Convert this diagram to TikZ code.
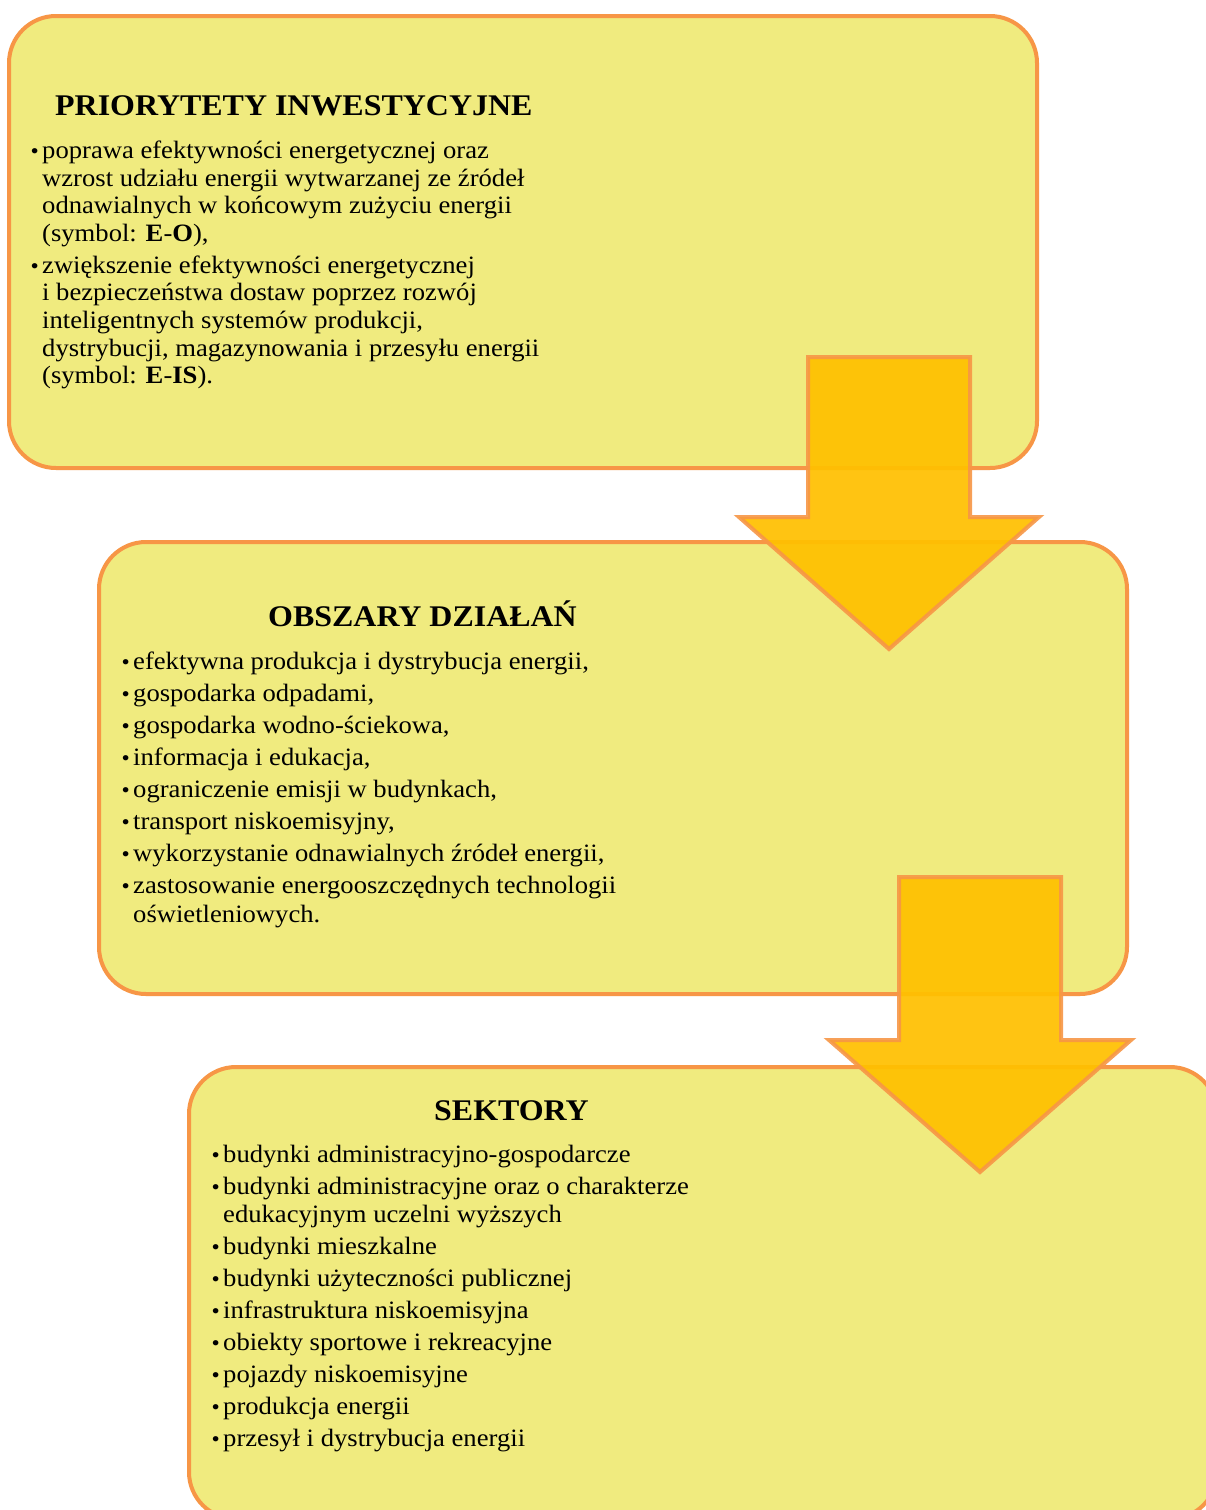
\documentclass[tikz,border=0pt]{standalone}
\usepackage{fontspec}
\setmainfont[FakeStretch=1.065]{Liberation Serif}
\definecolor{boxfill}{HTML}{F0EB7F}
\definecolor{boxline}{HTML}{F79646}
\definecolor{arrfill}{HTML}{FFC000}
\tikzset{
  box/.style={draw=boxline, fill=boxfill, line width=4pt, rounded corners=47pt,
    anchor=north west, minimum width=1028pt, minimum height=452pt, inner sep=0pt},
  bigarrow/.style={draw=boxline, draw opacity=0.9, fill=arrfill, fill opacity=0.93,
    line width=4pt, line join=miter},
  ttl/.style={anchor=base west, inner sep=0pt, font=\fontsize{30}{34}\selectfont\bfseries},
  txt/.style={anchor=base west, inner sep=0pt, font=\fontsize{25}{28}\selectfont},
  bul/.style={anchor=base east, inner sep=0pt, font=\fontsize{22}{24}\selectfont},
}
\begin{document}
\begin{tikzpicture}[x=1pt,y=-1pt]
\useasboundingbox (0,0) rectangle (1206,1510);
\clip (0,0) rectangle (1206,1510);
\fill[white] (0,0) rectangle (1206,1510);

% boxes
\node[box] (b1) at (7,14) {};
\node[box] (b2) at (97,540) {};
\node[box] (b3) at (187,1065) {};

% arrows
\draw[bigarrow] (808,357) -- (970,357) -- (970,517) -- (1039,517) -- (889,649)
  -- (739,517) -- (808,517) -- cycle;
\draw[bigarrow] (899,877) -- (1061,877) -- (1061,1040) -- (1131,1040) -- (980,1172)
  -- (829,1040) -- (899,1040) -- cycle;

% box 1 text
\node[ttl] (t1) at (55,115) {PRIORYTETY INWESTYCYJNE};
\node[bul] (p1d) at (39,158) {•};
\node[txt] (p1a) at (42,158) {poprawa efektywności energetycznej oraz};
\node[txt] (p1b) at (42,186) {wzrost udziału energii wytwarzanej ze źródeł};
\node[txt] (p1c) at (42,213) {odnawialnych w końcowym zużyciu energii};
\node[txt] (p1e) at (42,241) {(symbol: \textbf{E}-\textbf{O}),};
\node[bul] (p2d) at (39,273) {•};
\node[txt] (p2a) at (42,273) {zwiększenie efektywności energetycznej};
\node[txt] (p2b) at (42,300) {i bezpieczeństwa dostaw poprzez rozwój};
\node[txt] (p2c) at (42,328) {inteligentnych systemów produkcji,};
\node[txt] (p2e) at (42,356) {dystrybucji, magazynowania i przesyłu energii};
\node[txt] (p2f) at (42,383) {(symbol: \textbf{E}-\textbf{IS}).};

% box 2 text
\node[ttl] (t2) at (268,626) {OBSZARY DZIAŁAŃ};
\foreach \i/\t in {0/{efektywna produkcja i dystrybucja energii,},
                   1/{gospodarka odpadami,},
                   2/{gospodarka wodno-ściekowa,},
                   3/{informacja i edukacja,},
                   4/{ograniczenie emisji w budynkach,},
                   5/{transport niskoemisyjny,},
                   6/{wykorzystanie odnawialnych źródeł energii,},
                   7/{zastosowanie energooszczędnych technologii}}{
  \node[bul] (o\i d) at (130,669+32*\i) {•};
  \node[txt] (o\i) at (133,669+32*\i) {\t};
}
\node[txt] (o7b) at (133,922) {oświetleniowych.};

% box 3 text
\node[ttl] (t3) at (434,1120) {SEKTORY};
\node[bul] (s1d) at (220,1162) {•};
\node[txt] (s1) at (223,1162) {budynki administracyjno-gospodarcze};
\node[bul] (s2d) at (220,1194) {•};
\node[txt] (s2) at (223,1194) {budynki administracyjne oraz o charakterze};
\node[txt] (s2b) at (223,1222) {edukacyjnym uczelni wyższych};
\foreach \i/\t in {0/{budynki mieszkalne},
                   1/{budynki użyteczności publicznej},
                   2/{infrastruktura niskoemisyjna},
                   3/{obiekty sportowe i rekreacyjne},
                   4/{pojazdy niskoemisyjne},
                   5/{produkcja energii},
                   6/{przesył i dystrybucja energii}}{
  \node[bul] (s\i d) at (220,1254+32*\i) {•};
  \node[txt] (sx\i) at (223,1254+32*\i) {\t};
}
\end{tikzpicture}
\end{document}
